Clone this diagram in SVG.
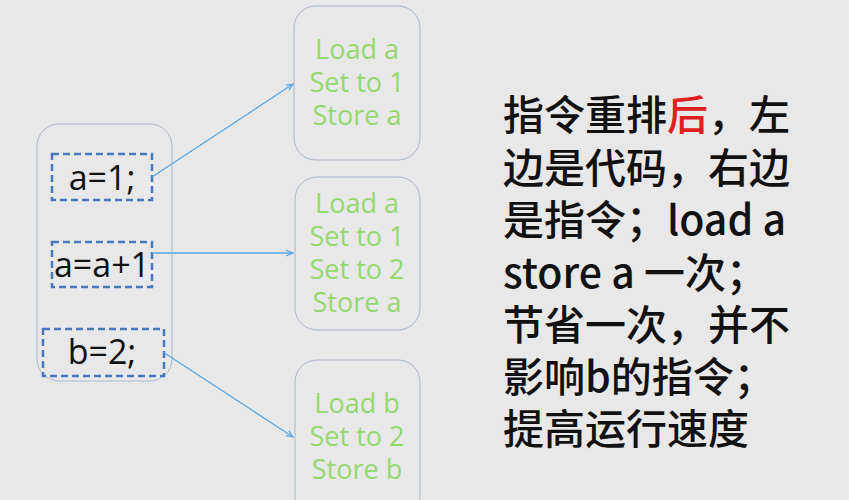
<svg xmlns="http://www.w3.org/2000/svg" width="849" height="500" viewBox="0 0 849 500">
<style>
.box{fill:none;stroke:#a9b6cc;stroke-width:1}
.dash{fill:none;stroke:#4a78bd;stroke-width:2.5;stroke-dasharray:7 4}
.code{font-family:"Open Sans","DejaVu Sans",sans-serif;font-size:34px;fill:#111;text-anchor:middle}
.ins{font-family:"Open Sans","Noto Sans",sans-serif;font-size:27px;fill:#95d86f;text-anchor:middle}
.big{font-family:"Noto Sans CJK SC",sans-serif;font-size:41px;font-weight:500;fill:#111}
.conn{stroke:#5aa5e0;stroke-width:1.3;fill:none;marker-end:url(#ah)}
</style>
<defs><marker id="ah" markerWidth="8" markerHeight="8" refX="7" refY="4" orient="auto" markerUnits="userSpaceOnUse"><path d="M0,1 L7,4 L0,7" fill="none" stroke="#5aa5e0" stroke-width="1.2"/></marker></defs>
<rect width="849" height="500" fill="#e8e8e8"/>
<g id="code">
<rect class="box" x="37" y="124" width="135" height="257" rx="22"/>
<rect class="dash" x="52" y="154" width="100" height="46"/>
<text class="code" x="102" y="190">a=1;</text>
<rect class="dash" x="52" y="242" width="100" height="45"/>
<text class="code" x="102" y="277">a=a+1</text>
<rect class="dash" x="43" y="329" width="121" height="47"/>
<text class="code" x="102" y="364">b=2;</text>
</g>
<g id="ins1">
<rect class="box" x="294" y="6" width="126" height="154" rx="22"/>
<text class="ins" x="357" y="59">Load a</text>
<text class="ins" x="357" y="92">Set to 1</text>
<text class="ins" x="357" y="125">Store a</text>
</g>
<g id="ins2">
<rect class="box" x="295" y="177" width="125" height="153" rx="22"/>
<text class="ins" x="357" y="213">Load a</text>
<text class="ins" x="357" y="246">Set to 1</text>
<text class="ins" x="357" y="279">Set to 2</text>
<text class="ins" x="357" y="312">Store a</text>
</g>
<g id="ins3">
<rect class="box" x="295" y="360" width="125" height="160" rx="22"/>
<text class="ins" x="357" y="413">Load b</text>
<text class="ins" x="357" y="446">Set to 2</text>
<text class="ins" x="357" y="479">Store b</text>
</g>
<g id="connectors">
<line class="conn" x1="152" y1="177" x2="293" y2="84"/>
<line class="conn" x1="152" y1="253" x2="293" y2="253"/>
<line class="conn" x1="163" y1="352" x2="293" y2="437"/>
</g>
<g id="note">
<text class="big" x="503" y="130">指令重排<tspan fill="#e02020">后</tspan>，左</text>
<text class="big" x="503" y="183">边是代码，右边</text>
<text class="big" x="503" y="235">是指令；load a</text>
<text class="big" x="503" y="288">store a 一次；</text>
<text class="big" x="503" y="340">节省一次，并不</text>
<text class="big" x="503" y="392">影响b的指令；</text>
<text class="big" x="503" y="444">提高运行速度</text>
</g>
</svg>
